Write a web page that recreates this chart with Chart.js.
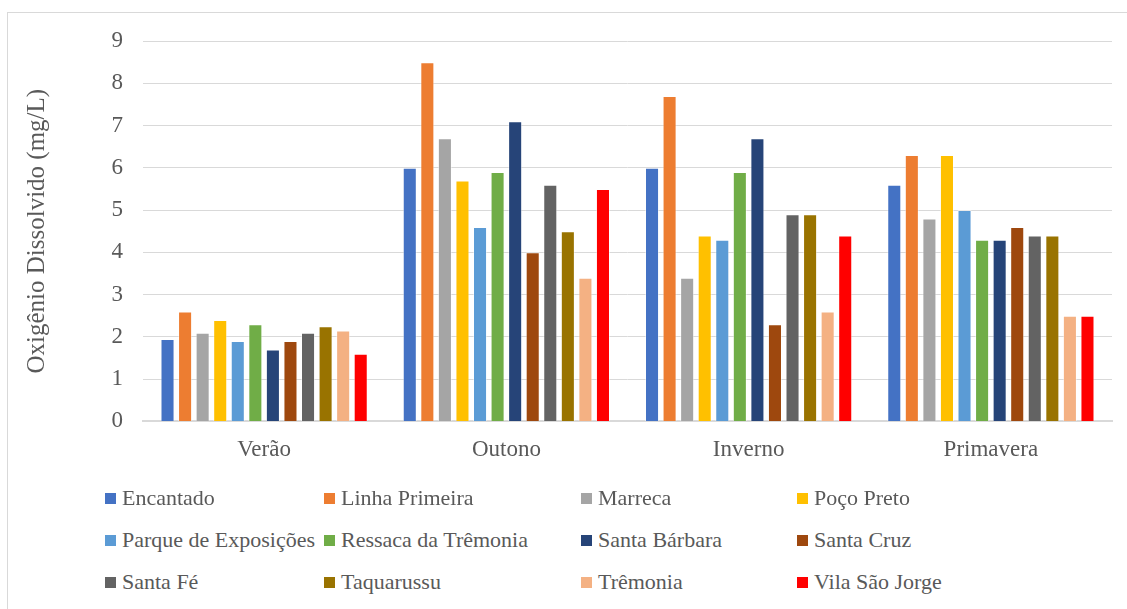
<!DOCTYPE html>
<html>
<head>
<meta charset="utf-8">
<script src="https://cdn.jsdelivr.net/npm/chart.js@4"></script>
<style>
    body { margin: 0; background: #fff; width: 1127px; height: 609px; overflow: hidden; position: relative; }
    #frame { position: absolute; left: 7px; top: 12px; width: 1140px; height: 620px; border: 1px solid #d9d9d9; box-sizing: border-box; }
    #chartBox { position: absolute; left: 0; top: 0; width: 1127px; height: 488px; }
    #legend { position: absolute; left: 0; top: 0; width: 1127px; font-family: 'Liberation Serif', 'DejaVu Serif', serif; font-size: 22px; color: #595959; }
    .item { position: absolute; white-space: nowrap; height: 28px; line-height: 28px; }
    .item span.box { position: absolute; left: 0; top: 9px; width: 11px; height: 11px; }
    .item span.txt { position: absolute; left: 17px; top: 0; }
</style>
</head>
<body>
<div id="frame"></div>
<div id="chartBox"><canvas id="chart"></canvas></div>
<div id="legend"></div>
<script>
const seasons = ['Verão', 'Outono', 'Inverno', 'Primavera'];
const sites = ['Encantado', 'Linha Primeira', 'Marreca', 'Poço Preto', 'Parque de Exposições', 'Ressaca da Trêmonia',
    'Santa Bárbara', 'Santa Cruz', 'Santa Fé', 'Taquarussu', 'Trêmonia', 'Vila São Jorge'];
const colors = ['#4472C4', '#ED7D31', '#A5A5A5', '#FFC000', '#5B9BD5', '#70AD47',
    '#264478', '#9E480E', '#636363', '#997300', '#F4B183', '#FF0000'];

// oxigênio dissolvido (mg/L) por estação: Verão, Outono, Inverno, Primavera
const encantado = [1.95, 6.0, 6.0, 5.6];
const linhaPrimeira = [2.6, 8.5, 7.7, 6.3];
const marreca = [2.1, 6.7, 3.4, 4.8];
const pocoPreto = [2.4, 5.7, 4.4, 6.3];
const parqueExposicoes = [1.9, 4.6, 4.3, 5.0];
const ressacaTremonia = [2.3, 5.9, 5.9, 4.3];
const santaBarbara = [1.7, 7.1, 6.7, 4.3];
const santaCruz = [1.9, 4.0, 2.3, 4.6];
const santaFe = [2.1, 5.6, 4.9, 4.4];
const taquarussu = [2.25, 4.5, 4.9, 4.4];
const tremonia = [2.15, 3.4, 2.6, 2.5];
const vilaSaoJorge = [1.6, 5.5, 4.4, 2.5];

const yTicks = [0, 1, 2, 3, 4, 5, 6, 7, 8, 9];

const series = [encantado, linhaPrimeira, marreca, pocoPreto, parqueExposicoes, ressacaTremonia,
    santaBarbara, santaCruz, santaFe, taquarussu, tremonia, vilaSaoJorge];

const serif = "'Liberation Serif', 'DejaVu Serif', serif";

new Chart(document.getElementById('chart'), {
    type: 'bar',
    data: {
        labels: seasons,
        datasets: series.map((d, i) => ({
            label: sites[i],
            data: d,
            backgroundColor: colors[i],
            borderColor: 'rgba(255, 255, 255, 0.45)',
            borderWidth: 1,
            categoryPercentage: 0.87,
            barPercentage: 0.8
        }))
    },
    options: {
        responsive: true,
        maintainAspectRatio: false,
        animation: false,
        layout: { padding: { left: 22, right: 15, top: 41, bottom: 9 } },
        plugins: { legend: { display: false }, tooltip: { enabled: false } },
        scales: {
            x: {
                grid: { display: false, drawTicks: false },
                border: { color: '#d9d9d9', width: 2 },
                ticks: { color: '#595959', padding: 15, font: { family: serif, size: 23 } }
            },
            y: {
                min: yTicks[0],
                max: yTicks[yTicks.length - 1],
                afterBuildTicks: s => { s.ticks = yTicks.map(v => ({ value: v })); },
                grid: { color: '#d9d9d9', lineWidth: 1, drawTicks: false },
                border: { display: false },
                ticks: { color: '#595959', padding: 20, font: { family: serif, size: 23 } },
                title: {
                    display: true,
                    text: 'Oxigênio Dissolvido (mg/L)',
                    color: '#595959',
                    font: { family: serif, size: 25, weight: 'normal' },
                    padding: { top: 0, bottom: 0 }
                },
                afterFit: s => { s.width = 121; }
            }
        }
    }
});

// legenda em grade de 4 colunas, como no original
const legend = document.getElementById('legend');
const colX = [105, 324, 581, 797];
const rowY = [484, 526, 568];
sites.forEach((name, i) => {
    const el = document.createElement('div');
    el.className = 'item';
    el.style.left = colX[i % 4] + 'px';
    el.style.top = rowY[Math.floor(i / 4)] + 'px';
    el.innerHTML = `<span class="box" style="background:${colors[i]}"></span><span class="txt">${name}</span>`;
    legend.appendChild(el);
});
</script>
</body>
</html>
